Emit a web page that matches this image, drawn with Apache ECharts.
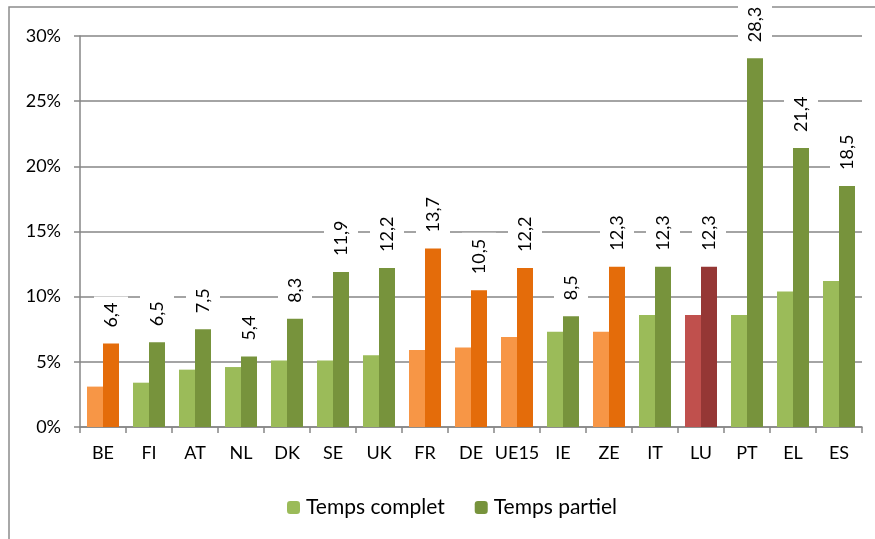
<!DOCTYPE html>
<html>
<head>
<meta charset="utf-8">
<script src="https://cdn.jsdelivr.net/npm/echarts@6/dist/echarts.min.js"></script>
<style>
  html, body { margin: 0; padding: 0; background: #fff; }
  #chart { width: 875px; height: 539px; }
</style>
</head>
<body>
<div id="chart"></div>
<script>
// données
const pays = ['BE', 'FI', 'AT', 'NL', 'DK', 'SE', 'UK', 'FR', 'DE', 'UE15', 'IE', 'ZE', 'IT', 'LU', 'PT', 'EL', 'ES'];
const tempsComplet = [3.1, 3.4, 4.4, 4.6, 5.1, 5.1, 5.5, 5.9, 6.1, 6.9, 7.3, 7.3, 8.6, 8.6, 8.6, 10.4, 11.2];
const tempsPartiel = [6.4, 6.5, 7.5, 5.4, 8.3, 11.9, 12.2, 13.7, 10.5, 12.2, 8.5, 12.3, 12.3, 12.3, 28.3, 21.4, 18.5];
// groupe de couleur par pays : v = vert, o = orange, r = rouge
const groupes = ['o', 'v', 'v', 'v', 'v', 'v', 'v', 'o', 'o', 'o', 'v', 'o', 'v', 'r', 'v', 'v', 'v'];

const clair = { v: '#9BBB59', o: '#F79646', r: '#C0504D' };
const fonce = { v: '#77933C', o: '#E46C0A', r: '#953735' };
const police = 'Lato, "Open Sans", sans-serif';

let myChart = echarts.init(document.getElementById('chart'));
myChart.setOption({
    animation: false,
    textStyle: { fontFamily: police },
    graphic: [{
        type: 'rect',
        shape: { x: 9, y: 7, width: 880, height: 540 },
        style: { fill: 'none', stroke: '#8c8c8c', lineWidth: 1.5 },
        silent: true
    }],
    grid: { left: 80, right: 13, top: 36, bottom: 112 },
    legend: {
        top: 492,
        left: 282,
        itemWidth: 13,
        itemHeight: 13,
        itemGap: 30,
        textStyle: { fontSize: 21, color: '#000', fontFamily: police, padding: [0, 0, 0, 1] },
        data: [
            { name: 'Temps complet', itemStyle: { color: clair.v } },
            { name: 'Temps partiel', itemStyle: { color: fonce.v } }
        ]
    },
    xAxis: {
        type: 'category',
        data: pays,
        axisLine: { lineStyle: { color: '#868686', width: 1.5 } },
        axisTick: { show: true, length: 6, lineStyle: { color: '#868686', width: 1.5 } },
        axisLabel: { color: '#000', fontSize: 18, margin: 17, interval: 0 }
    },
    yAxis: {
        type: 'value',
        min: 0,
        max: 30,
        interval: 5,
        axisLine: { show: true, lineStyle: { color: '#868686', width: 1.5 } },
        axisTick: { show: true, length: 6, lineStyle: { color: '#868686', width: 1.5 } },
        splitLine: { lineStyle: { color: '#868686', width: 1.5 } },
        axisLabel: { color: '#000', fontSize: 18, margin: 19, formatter: '{value}%' }
    },
    series: [{
            name: 'Temps complet',
            type: 'bar',
            barWidth: 16,
            barGap: '0%',
            itemStyle: { color: clair.v },
            data: tempsComplet.map((v, i) => ({ value: v, itemStyle: { color: clair[groupes[i]] } }))
        },
        {
            name: 'Temps partiel',
            type: 'bar',
            barWidth: 16,
            barGap: '0%',
            itemStyle: { color: fonce.v },
            label: {
                show: true,
                position: 'top',
                rotate: 90,
                align: 'left',
                verticalAlign: 'middle',
                distance: 10,
                color: '#000',
                fontSize: 18,
                fontFamily: police,
                backgroundColor: '#fff',
                padding: [8, 6, 8, 6],
                formatter: p => String(p.value).replace('.', ',')
            },
            data: tempsPartiel.map((v, i) => ({ value: v, itemStyle: { color: fonce[groupes[i]] } }))
        }]
});
window.addEventListener('resize', () => myChart.resize());
</script>
</body>
</html>
